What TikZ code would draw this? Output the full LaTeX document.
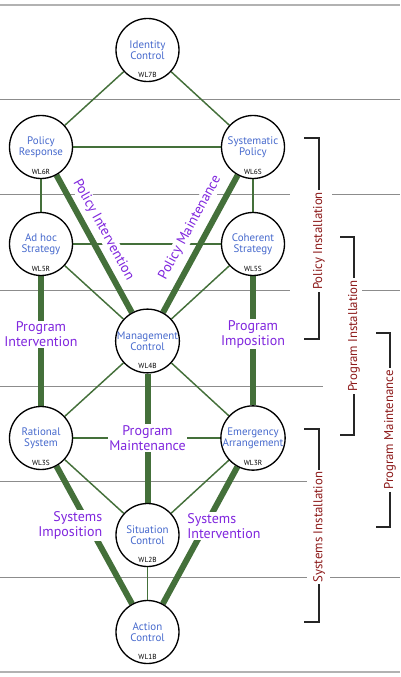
\documentclass[tikz,border=0pt]{standalone}
\usepackage{fontspec}
\setmainfont{PT Sans}
\usetikzlibrary{positioning}
\definecolor{nodeblue}{RGB}{70,105,205}
\definecolor{flowpurple}{RGB}{128,38,222}
\definecolor{phasered}{RGB}{140,25,25}
\definecolor{wlgreen}{RGB}{68,112,58}
\definecolor{gridgray}{RGB}{140,140,140}
\pgfdeclarelayer{grid}
\pgfdeclarelayer{edges}
\pgfsetlayers{grid,edges,main}

\begin{document}
\begin{tikzpicture}[
    x=0.75pt, y=-0.75pt,
    % Styles
    level/.style={circle, draw=black, line width=1pt, fill=white, minimum size=47.25pt, inner sep=0pt, align=center, text=nodeblue, font=\fontsize{8.2}{8.4}\selectfont},
    wltag/.style={anchor=south, yshift=2.5pt, inner sep=1pt, text=black, font=\fontsize{5.5}{6}\selectfont},
    link/.style={draw=wlgreen, line width=1.1pt},
    strong/.style={draw=wlgreen, line width=4.5pt},
    flow/.style={fill=white, inner sep=1pt, align=center, text=flowpurple, font=\fontsize{10.5}{11.3}\selectfont},
    phase/.style={fill=white, inner sep=1.5pt, rotate=90, text=phasered, font=\fontsize{9.6}{10}\selectfont},
    bracket/.style={draw=black!85, line width=1pt},
    gridline/.style={draw=gridgray, line width=0.75pt},
    frameline/.style={draw=gray!60, line width=1.1pt}
]
\useasboundingbox (0,0) rectangle (400,677);

% ------------------- LEVELS -------------------
\node[level, label={[wltag]south:WL7B}] (idc) at (147.5,50) {Identity\\Control};
\node[level, label={[wltag]south:WL6R}] (prs) at (41,147) {Policy\\Response};
\node[level, label={[wltag]south:WL6S}] (sys) at (253,147) {Systematic\\Policy};
\node[level, label={[wltag]south:WL5R}] (ahs) at (41,244) {Ad hoc\\Strategy};
\node[level, label={[wltag]south:WL5S}] (cos) at (253,244) {Coherent\\Strategy};
\node[level, label={[wltag]south:WL4B}] (mgc) at (147.5,341) {Management\\Control};
\node[level, label={[wltag]south:WL3S}] (rat) at (41,438) {Rational\\System};
\node[level, label={[wltag]south:WL3R}] (emg) at (253,438) {Emergency\\Arrangement};
\node[level, label={[wltag]south:WL2B}] (sit) at (147.5,535) {Situation\\Control};
\node[level, label={[wltag]south:WL1B}] (act) at (147.5,632) {Action\\Control};

% ------------------- GRID LINES -------------------
\begin{pgfonlayer}{grid}
\draw[frameline] (0,5) -- (400,5);
\draw[frameline] (0,672) -- (400,672);
\foreach \ya/\xa/\xb in {100/0/400, 195/0/290, 195/332/400, 290/0/290, 290/361/400, 386/0/323, 481/0/307, 577/0/307, 577/330/400}
    \draw[gridline] (\xa,\ya) -- (\xb,\ya);
\end{pgfonlayer}

% ------------------- CONNECTIONS -------------------
\begin{pgfonlayer}{edges}
\draw[link] (idc) -- (prs);
\draw[link] (idc) -- (sys);
\draw[link] (prs) -- (sys);
\draw[link] (prs) -- (ahs);
\draw[link] (sys) -- (cos);
\draw[link] (ahs) -- (cos);
\draw[link] (ahs) -- (mgc);
\draw[link] (cos) -- (mgc);
\draw[link] (mgc) -- (rat);
\draw[link] (mgc) -- (emg);
\draw[link] (rat) -- (emg);
\draw[link] (rat) -- (sit);
\draw[link] (emg) -- (sit);
\draw[link] (sit) -- (act);

\draw[strong] (prs) -- node[flow, sloped, above=3pt, pos=0.45] {Policy Intervention} (mgc);
\draw[strong] (mgc) -- node[flow, sloped, above=4.5pt, pos=0.56] {Policy Maintenance} (sys);
\draw[strong] (ahs) -- node[flow, pos=0.45] {Program\\Intervention} (rat);
\draw[strong] (cos) -- node[flow, pos=0.45] {Program\\Imposition} (emg);
\draw[strong] (mgc) -- node[flow, midway] {Program\\Maintenance} (sit);
\draw[strong] (rat) -- node[flow, pos=0.43, xshift=-14pt, align=right] {Systems\\Imposition} (act);
\draw[strong] (emg) -- node[flow, pos=0.43, xshift=14pt, align=left] {Systems\\Intervention} (act);
\end{pgfonlayer}

% ------------------- PHASE BRACKETS -------------------
\node[phase] (polinst) at (319,241) {Policy Installation};
\draw[bracket] (304,138) -| (polinst.east);
\draw[bracket] (polinst.west) |- (304,339);

\node[phase] (prginst) at (354,336) {Program Installation};
\draw[bracket] (340,237) -| (prginst.east);
\draw[bracket] (prginst.west) |- (340,435);

\node[phase] (prgmaint) at (390,430) {Program Maintenance};
\draw[bracket] (376,333) -| (prgmaint.east);
\draw[bracket] (prgmaint.west) |- (376,527);

\node[phase] (sysinst) at (319,527) {Systems Installation};
\draw[bracket] (304,429) -| (sysinst.east);
\draw[bracket] (sysinst.west) |- (304,622);

\end{tikzpicture}
\end{document}
